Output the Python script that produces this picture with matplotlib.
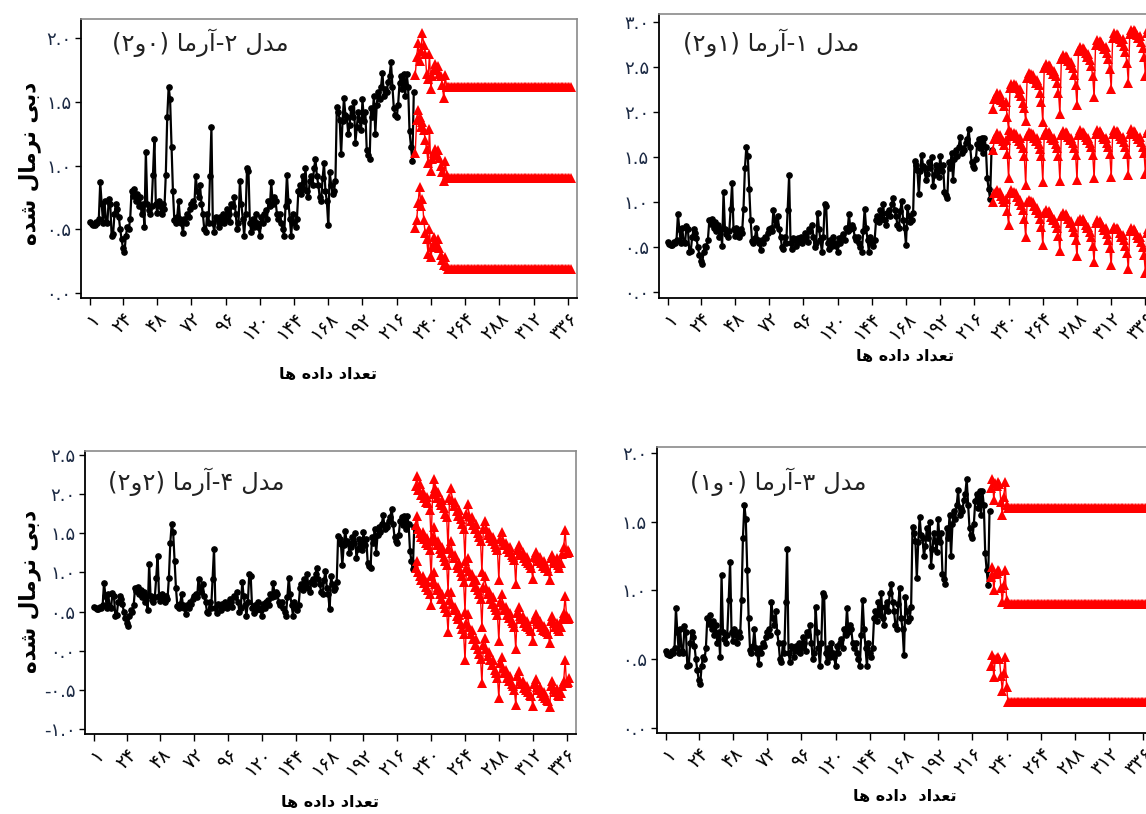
import numpy as np
import matplotlib
matplotlib.use('Agg')
import matplotlib.pyplot as plt

plt.rcParams['font.family'] = ['DejaVu Sans']

W, H = 1146, 814

# normalised discharge, observed part (step 1 .. 228)
observed = [
    0.56, 0.54, 0.53, 0.53, 0.56, 0.55, 0.58, 0.87, 0.70, 0.55, 0.72, 0.56,
    0.55, 0.74, 0.70, 0.45, 0.46, 0.62, 0.70, 0.66, 0.60, 0.50, 0.42, 0.35,
    0.32, 0.45, 0.52, 0.50, 0.58, 0.80, 0.76, 0.82, 0.72, 0.78, 0.68, 0.75,
    0.62, 0.70, 0.52, 1.11, 0.70, 0.65, 0.62, 0.68, 0.93, 1.21, 0.70, 0.63,
    0.72, 0.68, 0.62, 0.70, 0.66, 0.93, 1.38, 1.62, 1.52, 1.15, 0.80, 0.57,
    0.55, 0.60, 0.72, 0.58, 0.55, 0.47, 0.58, 0.55, 0.62, 0.60, 0.66, 0.70,
    0.72, 0.68, 0.92, 0.80, 0.75, 0.85, 0.70, 0.62, 0.50, 0.48, 0.62, 0.55,
    0.92, 1.30, 0.55, 0.48, 0.60, 0.58, 0.52, 0.60, 0.56, 0.62, 0.55, 0.58,
    0.66, 0.62, 0.56, 0.70, 0.68, 0.75, 0.62, 0.50, 0.55, 0.88, 0.70, 0.58,
    0.45, 0.62, 0.98, 0.96, 0.55, 0.48, 0.58, 0.52, 0.62, 0.55, 0.52, 0.45,
    0.60, 0.55, 0.62, 0.65, 0.58, 0.72, 0.68, 0.87, 0.70, 0.75, 0.72, 0.62,
    0.58, 0.62, 0.55, 0.50, 0.45, 0.68, 0.93, 0.72, 0.58, 0.45, 0.62, 0.55,
    0.52, 0.58, 0.80, 0.85, 0.78, 0.92, 0.82, 0.98, 0.80, 0.75, 0.88, 0.92,
    0.85, 0.98, 1.05, 0.92, 0.85, 0.75, 0.72, 0.90, 1.02, 0.80, 0.72, 0.53,
    0.95, 0.85, 0.78, 0.80, 0.88, 1.46, 1.42, 1.36, 1.09, 1.35, 1.53, 1.40,
    1.38, 1.25, 1.32, 1.45, 1.38, 1.50, 1.18, 1.30, 1.42, 1.36, 1.28, 1.52,
    1.35, 1.42, 1.12, 1.08, 1.05, 1.45, 1.38, 1.55, 1.25, 1.48, 1.58, 1.52,
    1.62, 1.73, 1.55, 1.60, 1.58, 1.66, 1.70, 1.81, 1.62, 1.45, 1.40, 1.38,
    1.48, 1.65, 1.70, 1.60, 1.72, 1.55, 1.72, 1.62, 1.27, 1.15, 1.04, 1.58,
]
steps = list(range(1, len(observed) + 1))
forecast_steps = list(range(229, 339))

# model 1 - ARMA(2,1)
m1_upper = [
    2.04, 2.15, 2.18, 2.21, 2.17, 2.20, 2.14, 2.11, 2.07, 2.12, 1.95, 1.80,
    2.27, 2.32, 2.28, 2.31, 2.30, 2.27, 2.22, 2.26, 2.18, 2.10, 2.05, 1.90,
    2.38, 2.44, 2.40, 2.43, 2.41, 2.37, 2.33, 2.36, 2.30, 2.22, 2.12, 1.89,
    2.49, 2.54, 2.50, 2.53, 2.51, 2.47, 2.43, 2.46, 2.40, 2.33, 2.22, 1.98,
    2.59, 2.64, 2.60, 2.63, 2.61, 2.57, 2.53, 2.56, 2.49, 2.42, 2.30, 2.08,
    2.68, 2.73, 2.69, 2.72, 2.70, 2.66, 2.62, 2.65, 2.58, 2.51, 2.40, 2.17,
    2.75, 2.80, 2.77, 2.79, 2.78, 2.74, 2.70, 2.73, 2.66, 2.59, 2.48, 2.26,
    2.83, 2.88, 2.85, 2.87, 2.86, 2.82, 2.78, 2.81, 2.74, 2.67, 2.55, 2.33,
    2.87, 2.91, 2.89, 2.92, 2.90, 2.86, 2.83, 2.85, 2.78, 2.72, 2.62, 2.40,
    2.88, 2.93,
]
m1_mid = [
    1.58, 1.70, 1.74, 1.77, 1.72, 1.75, 1.70, 1.68, 1.64, 1.69, 1.54, 1.27,
    1.74, 1.78, 1.74, 1.77, 1.76, 1.72, 1.68, 1.71, 1.65, 1.60, 1.52, 1.19,
    1.74, 1.78, 1.75, 1.77, 1.76, 1.72, 1.68, 1.71, 1.65, 1.59, 1.51, 1.23,
    1.75, 1.79, 1.75, 1.78, 1.76, 1.72, 1.69, 1.71, 1.65, 1.60, 1.52, 1.24,
    1.75, 1.79, 1.76, 1.78, 1.77, 1.73, 1.69, 1.72, 1.66, 1.60, 1.53, 1.25,
    1.75, 1.80, 1.76, 1.78, 1.77, 1.73, 1.69, 1.72, 1.66, 1.61, 1.53, 1.27,
    1.76, 1.80, 1.77, 1.79, 1.77, 1.73, 1.70, 1.72, 1.66, 1.61, 1.54, 1.28,
    1.76, 1.80, 1.77, 1.79, 1.78, 1.74, 1.70, 1.73, 1.67, 1.61, 1.54, 1.30,
    1.76, 1.81, 1.77, 1.79, 1.78, 1.74, 1.70, 1.73, 1.67, 1.62, 1.55, 1.32,
    1.77, 1.80,
]
m1_lower = [
    1.00, 1.10, 1.12, 1.14, 1.10, 1.12, 1.07, 1.04, 1.00, 1.04, 0.90, 0.75,
    1.10, 1.14, 1.10, 1.12, 1.10, 1.06, 1.01, 1.03, 0.97, 0.91, 0.82, 0.61,
    1.00, 1.03, 1.00, 1.02, 1.00, 0.96, 0.92, 0.94, 0.88, 0.82, 0.73, 0.53,
    0.88, 0.91, 0.88, 0.90, 0.88, 0.84, 0.80, 0.82, 0.77, 0.71, 0.63, 0.46,
    0.85, 0.88, 0.85, 0.87, 0.85, 0.81, 0.77, 0.79, 0.73, 0.67, 0.58, 0.40,
    0.79, 0.82, 0.79, 0.81, 0.79, 0.75, 0.71, 0.73, 0.67, 0.61, 0.52, 0.34,
    0.77, 0.80, 0.77, 0.79, 0.77, 0.73, 0.69, 0.71, 0.65, 0.58, 0.49, 0.30,
    0.70, 0.73, 0.70, 0.72, 0.70, 0.66, 0.62, 0.64, 0.58, 0.52, 0.44, 0.26,
    0.68, 0.71, 0.68, 0.70, 0.68, 0.64, 0.60, 0.62, 0.56, 0.50, 0.41, 0.22,
    0.66, 0.70,
]

# model 2 - ARMA(2,0): settles after about two years
m2_upper = [1.71, 1.85, 1.96, 1.82, 1.90, 2.04, 1.95, 1.88, 1.72, 1.68, 1.88, 1.60,
            1.70, 1.76, 1.80, 1.75, 1.78, 1.72, 1.70, 1.63, 1.53, 1.71, 1.62] + [1.615] * 87
m2_mid = [1.10, 1.36, 1.44, 1.38, 1.30, 1.34, 1.28, 1.20, 1.13, 1.02, 1.29, 0.96,
          1.05, 1.10, 1.13, 1.08, 1.12, 1.06, 1.00, 0.95, 0.88, 1.04, 0.93] + [0.90] * 87
m2_lower = [0.51, 0.57, 0.71, 0.83, 0.68, 0.74, 0.57, 0.47, 0.42, 0.31, 0.50, 0.28,
            0.36, 0.44, 0.40, 0.38, 0.42, 0.35, 0.30, 0.26, 0.22, 0.28, 0.21] + [0.19] * 87

# model 3 - ARMA(1,0): settles after one year
m3_upper = [1.74, 1.81, 1.66, 1.78, 1.76, 1.79, 1.77, 1.64, 1.55, 1.68, 1.79, 1.62] + [1.60] * 98
m3_mid = [1.10, 1.17, 1.00, 1.12, 1.13, 1.15, 1.14, 1.02, 0.92, 1.04, 1.15, 0.93] + [0.90] * 98
m3_lower = [0.45, 0.53, 0.37, 0.50, 0.51, 0.52, 0.50, 0.38, 0.27, 0.40, 0.52, 0.30] + [0.19] * 98

# model 4 - ARMA(2,2)
m4_upper = [
    2.10, 2.23, 2.05, 2.12, 1.98, 2.02, 1.95, 1.90, 1.96, 1.88, 1.80, 1.40,
    2.00, 2.19, 2.08, 1.95, 2.02, 1.90, 1.86, 1.92, 1.82, 1.75, 1.70, 1.30,
    1.95, 2.08, 1.92, 1.85, 1.90, 1.78, 1.72, 1.80, 1.68, 1.62, 1.55, 1.15,
    1.75, 1.87, 1.72, 1.66, 1.70, 1.60, 1.55, 1.62, 1.50, 1.45, 1.40, 1.00,
    1.55, 1.66, 1.55, 1.48, 1.52, 1.44, 1.40, 1.45, 1.36, 1.32, 1.28, 0.90,
    1.42, 1.52, 1.40, 1.35, 1.38, 1.30, 1.26, 1.32, 1.22, 1.20, 1.16, 0.85,
    1.28, 1.35, 1.25, 1.22, 1.26, 1.18, 1.15, 1.20, 1.12, 1.10, 1.06, 0.92,
    1.20, 1.26, 1.18, 1.15, 1.20, 1.12, 1.08, 1.14, 1.06, 1.05, 1.02, 0.90,
    1.18, 1.22, 1.15, 1.12, 1.18, 1.10, 1.06, 1.12, 1.24, 1.32, 1.54, 1.25,
    1.28, 1.26,
]
m4_mid = [
    1.60, 1.72, 1.55, 1.50, 1.45, 1.52, 1.42, 1.38, 1.44, 1.35, 1.28, 0.95,
    1.45, 1.58, 1.42, 1.35, 1.40, 1.30, 1.25, 1.32, 1.20, 1.15, 1.10, 0.75,
    1.30, 1.40, 1.25, 1.18, 1.22, 1.10, 1.05, 1.12, 1.00, 0.95, 0.88, 0.50,
    1.05, 1.18, 1.02, 0.95, 0.98, 0.88, 0.82, 0.90, 0.78, 0.72, 0.66, 0.30,
    0.82, 0.95, 0.80, 0.72, 0.76, 0.66, 0.60, 0.68, 0.56, 0.52, 0.46, 0.12,
    0.62, 0.72, 0.58, 0.52, 0.56, 0.46, 0.42, 0.48, 0.38, 0.35, 0.30, 0.02,
    0.48, 0.56, 0.45, 0.40, 0.44, 0.36, 0.32, 0.38, 0.30, 0.28, 0.25, 0.12,
    0.40, 0.47, 0.38, 0.34, 0.38, 0.30, 0.27, 0.32, 0.25, 0.24, 0.22, 0.10,
    0.38, 0.44, 0.35, 0.31, 0.36, 0.28, 0.25, 0.30, 0.40, 0.48, 0.70, 0.45,
    0.40, 0.42,
]
m4_lower = [
    1.05, 1.15, 1.00, 0.95, 0.90, 0.96, 0.86, 0.82, 0.88, 0.78, 0.72, 0.59,
    0.88, 1.00, 0.85, 0.78, 0.82, 0.72, 0.66, 0.72, 0.60, 0.55, 0.50, 0.24,
    0.65, 0.75, 0.60, 0.52, 0.56, 0.45, 0.40, 0.46, 0.34, 0.28, 0.22, -0.12,
    0.35, 0.47, 0.30, 0.22, 0.26, 0.15, 0.08, 0.15, 0.02, -0.04, -0.10, -0.41,
    0.08, 0.17, 0.02, -0.06, -0.02, -0.12, -0.18, -0.12, -0.24, -0.28, -0.34, -0.60,
    -0.15, -0.08, -0.22, -0.28, -0.24, -0.34, -0.38, -0.32, -0.42, -0.45, -0.50, -0.69,
    -0.32, -0.26, -0.38, -0.42, -0.38, -0.47, -0.50, -0.45, -0.53, -0.56, -0.58, -0.70,
    -0.42, -0.36, -0.46, -0.50, -0.46, -0.54, -0.57, -0.52, -0.60, -0.62, -0.64, -0.71,
    -0.45, -0.38, -0.48, -0.52, -0.48, -0.56, -0.58, -0.54, -0.45, -0.38, -0.12, -0.41,
    -0.40, -0.35,
]

xtick_values = [1, 24, 48, 72, 96, 120, 144, 168, 192, 216, 240, 264, 288, 312, 336]
xtick_labels = ['۱', '۲۴', '۴۸', '۷۲', '۹۶', '۱۲۰', '۱۴۴', '۱۶۸', '۱۹۲',
                '۲۱۶', '۲۴۰', '۲۶۴', '۲۸۸', '۳۱۲', '۳۳۶']

y_title = 'دبی نرمال شده'
x_title = 'تعداد داده ها'

# Persian letters -> (isolated, final[, initial, medial]) presentation forms
FORMS = {
    'ا': ('\uFE8D', '\uFE8E'),
    'آ': ('\uFE81', '\uFE82'),
    'د': ('\uFEA9', '\uFEAA'),
    'ر': ('\uFEAD', '\uFEAE'),
    'و': ('\uFEED', '\uFEEE'),
    'ب': ('\uFE8F', '\uFE90', '\uFE91', '\uFE92'),
    'ت': ('\uFE95', '\uFE96', '\uFE97', '\uFE98'),
    'ش': ('\uFEB5', '\uFEB6', '\uFEB7', '\uFEB8'),
    'ع': ('\uFEC9', '\uFECA', '\uFECB', '\uFECC'),
    'ل': ('\uFEDD', '\uFEDE', '\uFEDF', '\uFEE0'),
    'م': ('\uFEE1', '\uFEE2', '\uFEE3', '\uFEE4'),
    'ن': ('\uFEE5', '\uFEE6', '\uFEE7', '\uFEE8'),
    'ه': ('\uFEE9', '\uFEEA', '\uFEEB', '\uFEEC'),
    'ی': ('\uFBFC', '\uFBFD', '\uFBFE', '\uFBFF'),
}


def rtl(text):
    # join letters and put them in display order (matplotlib has no bidi)
    out = []
    for i, ch in enumerate(text):
        forms = FORMS.get(ch)
        if forms is None:
            out.append(ch)
            continue
        prev = text[i - 1] if i > 0 else ''
        nxt = text[i + 1] if i + 1 < len(text) else ''
        join_prev = len(FORMS.get(prev, ())) == 4
        join_next = len(forms) == 4 and nxt in FORMS
        if join_prev and join_next:
            out.append(forms[3])
        elif join_next:
            out.append(forms[2])
        elif join_prev:
            out.append(forms[1])
        else:
            out.append(forms[0])
    mirror = {'(': ')', ')': '('}
    return ''.join(mirror.get(c, c) for c in reversed(out))


def fa_num(v):
    s = '%.1f' % v
    return s.translate(str.maketrans('0123456789', '۰۱۲۳۴۵۶۷۸۹'))


def px_rect(left, top, right, bottom):
    return [left / W, 1 - bottom / H, (right - left) / W, (bottom - top) / H]


fig = plt.figure(figsize=(W / 100, H / 100), dpi=100)


def panel(rect, ylim, yticks, bands, title, title_xy):
    ax = fig.add_axes(px_rect(*rect))
    ax.plot(steps, observed, color='black', lw=1.6, marker='o', ms=3.8)
    for band in bands:
        ax.plot(forecast_steps, band, color='#ff0000', lw=1.0, marker='^', ms=7.5,
                markeredgewidth=0)
    ax.set_xlim(-5.5, 342.5)
    ax.set_ylim(*ylim)
    ax.set_yticks(yticks)
    ax.set_yticklabels([fa_num(v) for v in yticks], fontsize=13, color='#1c2a44')
    ax.set_xticks(xtick_values)
    ax.set_xticklabels(xtick_labels, rotation=45, ha='right', va='top',
                       rotation_mode='anchor', fontsize=13.5)
    ax.tick_params(axis='both', direction='out', length=4, width=1, pad=3)
    ax.tick_params(axis='x', length=5)
    for side in ('left', 'bottom'):
        ax.spines[side].set_color('black')
        ax.spines[side].set_linewidth(1.3)
    for side in ('top', 'right'):
        ax.spines[side].set_color('#8a8a8a')
        ax.spines[side].set_linewidth(1.2)
    fig.text(title_xy[0] / W, 1 - title_xy[1] / H, rtl(title), fontsize=17.5,
             ha='left', va='center', color='#222222')
    return ax


panel((81, 19.3, 577, 297.7), (-0.037, 2.149), [0, 0.5, 1.0, 1.5, 2.0],
      [m2_upper, m2_mid, m2_lower], 'مدل ۲-آرما (۰و۲)', (112, 43))
panel((658.7, 14.3, 1154.7, 297.7), (-0.059, 3.089), [0, 0.5, 1.0, 1.5, 2.0, 2.5, 3.0],
      [m1_upper, m1_mid, m1_lower], 'مدل ۱-آرما (۱و۲)', (683, 43))
panel((85, 450.7, 575.7, 733.7), (-1.055, 2.55),
      [-1.0, -0.5, 0, 0.5, 1.0, 1.5, 2.0, 2.5],
      [m4_upper, m4_mid, m4_lower], 'مدل ۴-آرما (۲و۲)', (108, 482))
panel((656.7, 447, 1152.7, 733.3), (-0.036, 2.041), [0, 0.5, 1.0, 1.5, 2.0],
      [m3_upper, m3_mid, m3_lower], 'مدل ۳-آرما (۰و۱)', (690, 482))

for y in (163, 591):
    fig.text(30 / W, 1 - y / H, rtl(y_title), rotation=90, fontsize=15.5,
             fontweight='bold', ha='center', va='center')
for x, y, label in ((328, 375, x_title), (905, 357, x_title),
                    (330, 802, x_title), (905, 797, 'تعداد  داده ها')):
    fig.text(x / W, 1 - y / H, rtl(label), fontsize=11.5, fontweight='bold',
             ha='center', va='center')

fig.savefig('out.png', dpi=100)
